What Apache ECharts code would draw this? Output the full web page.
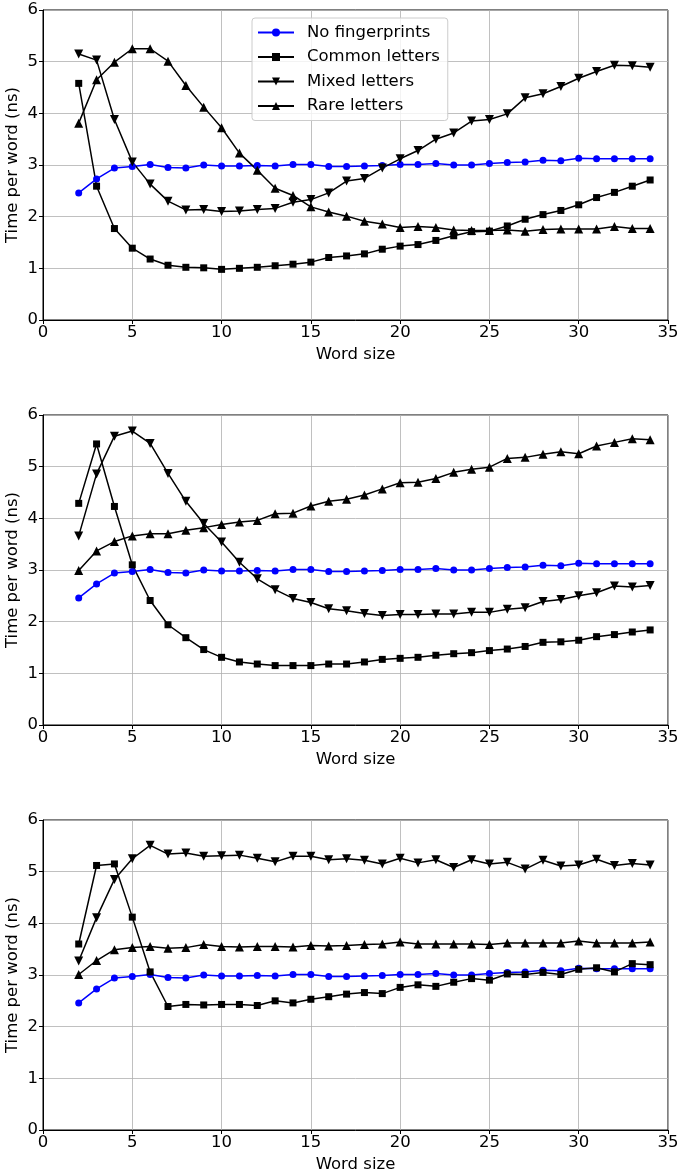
<!DOCTYPE html>
<html>
<head>
<meta charset="utf-8">
<script src="https://cdn.jsdelivr.net/npm/echarts@6/dist/echarts.min.js"></script>
<style>
  html, body { margin: 0; padding: 0; background: #fff; }
  #main { width: 679px; height: 1174px; }
</style>
</head>
<body>
<div id="main"></div>
<script>
// word sizes on the x axis
var wordSizes = [2, 3, 4, 5, 6, 7, 8, 9, 10, 11, 12, 13, 14, 15, 16, 17, 18,
                 19, 20, 21, 22, 23, 24, 25, 26, 27, 28, 29, 30, 31, 32, 33, 34];

var seriesNames = ['No fingerprints', 'Common letters', 'Mixed letters', 'Rare letters'];
var xTicks = [0, 5, 10, 15, 20, 25, 30, 35];
var yTicks = [0, 1, 2, 3, 4, 5, 6];

// baseline, same in all three panels
var noFingerprints = [2.46, 2.73, 2.94, 2.97, 3.01, 2.95, 2.94, 3.00, 2.98, 2.98, 2.99, 2.98, 3.01, 3.01, 2.97, 2.97, 2.98,
                      2.99, 3.01, 3.01, 3.03, 3.00, 3.00, 3.03, 3.05, 3.06, 3.09, 3.08, 3.13, 3.12, 3.12, 3.12, 3.12];

// panel 1
var common1 = [4.58, 2.59, 1.77, 1.39, 1.18, 1.06, 1.02, 1.01, 0.98, 1.00, 1.02, 1.05, 1.08, 1.12, 1.21, 1.24, 1.28,
               1.37, 1.43, 1.46, 1.54, 1.63, 1.71, 1.72, 1.82, 1.95, 2.04, 2.12, 2.23, 2.37, 2.47, 2.59, 2.71];
var mixed1 = [5.15, 5.03, 3.88, 3.06, 2.63, 2.30, 2.13, 2.14, 2.10, 2.11, 2.14, 2.16, 2.28, 2.33, 2.46, 2.69, 2.74,
              2.94, 3.12, 3.28, 3.50, 3.62, 3.85, 3.88, 3.99, 4.30, 4.38, 4.52, 4.68, 4.81, 4.93, 4.92, 4.89];
var rare1 = [3.81, 4.65, 4.99, 5.25, 5.25, 5.01, 4.54, 4.12, 3.72, 3.23, 2.90, 2.55, 2.41, 2.19, 2.09, 2.01, 1.91,
             1.86, 1.79, 1.81, 1.79, 1.74, 1.73, 1.73, 1.74, 1.72, 1.75, 1.76, 1.76, 1.76, 1.81, 1.77, 1.77];

// panel 2
var common2 = [4.29, 5.44, 4.23, 3.10, 2.41, 1.94, 1.69, 1.46, 1.31, 1.22, 1.18, 1.15, 1.15, 1.15, 1.18, 1.18, 1.22,
               1.27, 1.29, 1.31, 1.35, 1.38, 1.40, 1.44, 1.47, 1.52, 1.60, 1.61, 1.64, 1.71, 1.75, 1.80, 1.84];
var mixed2 = [3.66, 4.86, 5.59, 5.69, 5.45, 4.87, 4.33, 3.90, 3.54, 3.15, 2.83, 2.62, 2.45, 2.37, 2.25, 2.21, 2.16,
              2.12, 2.14, 2.14, 2.15, 2.15, 2.18, 2.18, 2.24, 2.27, 2.39, 2.43, 2.50, 2.56, 2.69, 2.67, 2.70];
var rare2 = [2.99, 3.37, 3.55, 3.66, 3.70, 3.70, 3.77, 3.82, 3.88, 3.93, 3.96, 4.09, 4.10, 4.24, 4.33, 4.37, 4.45,
             4.57, 4.69, 4.70, 4.77, 4.89, 4.95, 4.99, 5.16, 5.18, 5.24, 5.29, 5.25, 5.40, 5.47, 5.54, 5.52];

// panel 3
var common3 = [3.60, 5.12, 5.15, 4.12, 3.06, 2.39, 2.43, 2.42, 2.43, 2.43, 2.41, 2.50, 2.46, 2.53, 2.58, 2.63, 2.66,
               2.64, 2.76, 2.81, 2.78, 2.86, 2.93, 2.90, 3.02, 3.01, 3.05, 3.01, 3.11, 3.14, 3.06, 3.22, 3.20];
var mixed3 = [3.27, 4.11, 4.85, 5.25, 5.51, 5.34, 5.36, 5.30, 5.31, 5.32, 5.26, 5.19, 5.30, 5.30, 5.23, 5.25, 5.22,
              5.15, 5.26, 5.17, 5.23, 5.08, 5.23, 5.15, 5.18, 5.05, 5.22, 5.11, 5.13, 5.24, 5.12, 5.16, 5.13];
var rare3 = [3.01, 3.28, 3.49, 3.53, 3.55, 3.52, 3.53, 3.59, 3.55, 3.54, 3.55, 3.55, 3.54, 3.57, 3.56, 3.57, 3.59,
             3.60, 3.64, 3.60, 3.60, 3.60, 3.60, 3.59, 3.62, 3.62, 3.62, 3.62, 3.66, 3.62, 3.62, 3.62, 3.64];

var panels = [
    [noFingerprints, common1, mixed1, rare1],
    [noFingerprints, common2, mixed2, rare2],
    [noFingerprints, common3, mixed3, rare3]
];
var panelTops = [10, 415, 820];

var font = 'DejaVu Sans';
var fs = 16.5;
var styles = [
    { color: '#0000ff', symbol: 'circle', size: 7, rotate: 0 },
    { color: '#000000', symbol: 'rect', size: 7, rotate: 0 },
    { color: '#000000', symbol: 'triangle', size: 9, rotate: 180 },
    { color: '#000000', symbol: 'triangle', size: 9, rotate: 0 }
];

function pairs(ys) {
    var out = [];
    for (var i = 0; i < wordSizes.length; i++) {
        out.push([wordSizes[i], ys[i]]);
    }
    return out;
}

var grids = [], xAxes = [], yAxes = [], series = [];
for (var p = 0; p < panels.length; p++) {
    grids.push({
        left: 43, right: 11, top: panelTops[p], height: 310,
        containLabel: false, outerBoundsMode: 'none',
        show: true, borderColor: '#000', borderWidth: 1, backgroundColor: 'transparent'
    });
    xAxes.push({
        gridIndex: p, type: 'value', min: xTicks[0], max: xTicks[xTicks.length - 1], interval: 5,
        name: 'Word size', nameLocation: 'middle', nameGap: 26, nameMoveOverlap: false,
        nameTextStyle: { fontFamily: font, fontSize: fs, color: '#000' },
        axisLine: { show: true, onZero: false, lineStyle: { color: '#000', width: 1 } },
        axisTick: { show: true, length: 4, lineStyle: { color: '#000' } },
        axisLabel: { fontFamily: font, fontSize: fs, color: '#000', margin: 4 },
        splitLine: { show: true, lineStyle: { color: '#b0b0b0', width: 0.8 } }
    });
    yAxes.push({
        gridIndex: p, type: 'value', min: yTicks[0], max: yTicks[yTicks.length - 1], interval: 1,
        name: 'Time per word (ns)', nameLocation: 'middle', nameGap: 22, nameMoveOverlap: false,
        nameTextStyle: { fontFamily: font, fontSize: fs, color: '#000' },
        axisLine: { show: true, lineStyle: { color: '#000', width: 1 } },
        axisTick: { show: true, length: 4, lineStyle: { color: '#000' } },
        axisLabel: { fontFamily: font, fontSize: fs, color: '#000', margin: 5 },
        splitLine: { show: true, lineStyle: { color: '#b0b0b0', width: 0.8 } }
    });
    for (var s = 0; s < seriesNames.length; s++) {
        var st = styles[s];
        series.push({
            name: seriesNames[s], type: 'line',
            xAxisIndex: p, yAxisIndex: p,
            data: pairs(panels[p][s]),
            symbol: st.symbol, symbolSize: st.size, symbolRotate: st.rotate,
            showSymbol: true,
            lineStyle: { color: st.color, width: 1.5 },
            itemStyle: { color: st.color, borderWidth: 0 },
            animation: false, z: 3
        });
    }
}

var chart = echarts.init(document.getElementById('main'), null, { renderer: 'canvas' });
chart.setOption({
    backgroundColor: '#fff',
    animation: false,
    legend: {
        data: seriesNames,
        orient: 'vertical', left: 252, top: 18,
        itemWidth: 36, itemHeight: 10, itemGap: 7.5,
        padding: [6, 8, 6, 5],
        borderColor: '#cccccc', borderWidth: 1, borderRadius: 3,
        backgroundColor: 'rgba(255,255,255,0.8)',
        textStyle: { fontFamily: font, fontSize: fs, color: '#000', padding: [0, 0, 0, 8] },
        selectedMode: false
    },
    grid: grids,
    xAxis: xAxes,
    yAxis: yAxes,
    series: series
});
</script>
</body>
</html>
